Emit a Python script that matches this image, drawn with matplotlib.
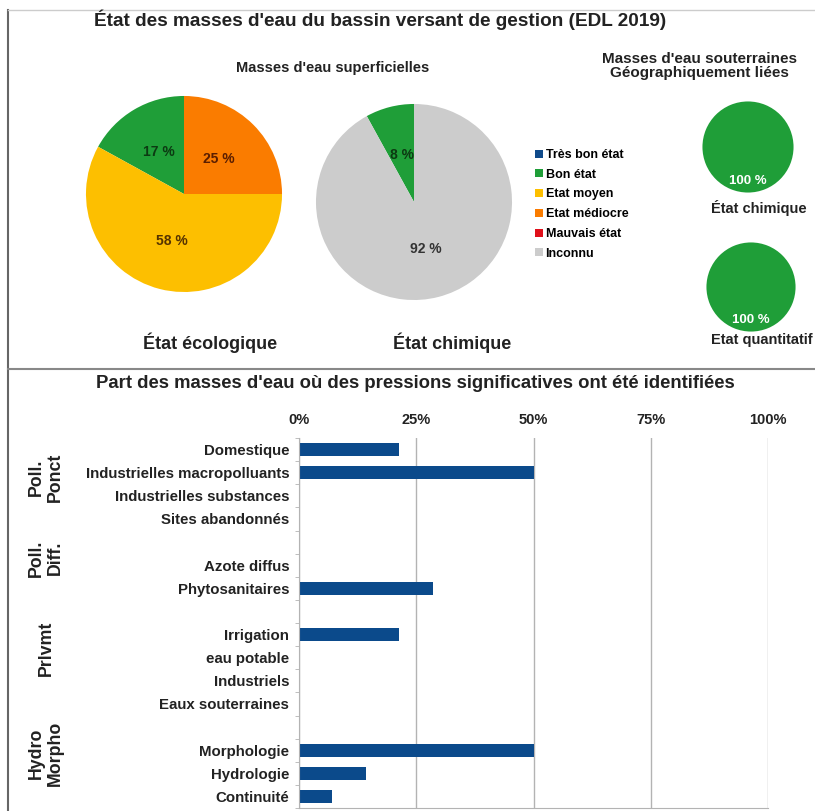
import math
import matplotlib
matplotlib.use("Agg")
import matplotlib.pyplot as plt
from matplotlib.patches import Patch
from matplotlib.lines import Line2D

W, H = 815, 811

# ---------------- data ----------------
etat_categories = ["Très bon état", "Bon état", "Etat moyen", "Etat médiocre", "Mauvais état", "Inconnu"]
etat_colors = ["#0f4a8a", "#1f9e38", "#fdbf00", "#fa7c00", "#e0101a", "#cccccc"]
label_colors = ["#0a2040", "#0c3a12", "#553300", "#5a1e00", "#400000", "#333333"]

ecologique_values = [0, 17, 58, 25, 0, 0]
chimique_values = [0, 8, 0, 0, 0, 92]
sout_chimique_values = [0, 100, 0, 0, 0, 0]
sout_quantitatif_values = [0, 100, 0, 0, 0, 0]

pression_labels = ["Domestique", "Industrielles macropolluants", "Industrielles substances",
                   "Sites abandonnés", "", "Azote diffus", "Phytosanitaires", "",
                   "Irrigation", "eau potable", "Industriels", "Eaux souterraines", "",
                   "Morphologie", "Hydrologie", "Continuité"]
pression_values = [21.4, 50, 0, 0, 0, 0, 28.6, 0, 21.4, 0, 0, 0, 0, 50, 14.3, 7.1]
group_labels = ["Poll.\nPonct", "Poll.\nDiff.", "Prlvmt", "Hydro\nMorpho"]
x_ticks = [0, 25, 50, 75, 100]
x_ticklabels = ["0%", "25%", "50%", "75%", "100%"]

SANS = ["Liberation Sans", "DejaVu Sans"]
plt.rcParams["font.family"] = SANS

fig = plt.figure(figsize=(W / 100, H / 100), dpi=100)
fig.patch.set_facecolor("white")


def fx(x):
    return x / W


def fy(y):
    return 1 - y / H


def pie_axes(cx, cy, r):
    return fig.add_axes([fx(cx - r), fy(cy + r), 2 * r / W, 2 * r / H])


def draw_pie(ax, values, pctdist, txtcolors, fs):
    ax.pie(values, colors=etat_colors, startangle=90, counterclock=True,
           radius=1, wedgeprops=dict(linewidth=0))
    total = sum(values)
    ang = 90.0
    for v, tc in zip(values, txtcolors):
        if v <= 0:
            continue
        span = 360.0 * v / total
        mid = math.radians(ang + span / 2)
        ax.text(pctdist * math.cos(mid), pctdist * math.sin(mid), f"{v} %",
                ha="center", va="center", fontsize=fs, fontweight="bold", color=tc)
        ang += span
    ax.set_xlim(-1.01, 1.01)
    ax.set_ylim(-1.01, 1.01)
    ax.set_aspect("equal")
    ax.axis("off")


# frame lines
fig.add_artist(Line2D([fx(8), fx(8)], [fy(10), fy(811)], color="#666666", lw=1.5))
fig.add_artist(Line2D([fx(8), fx(815)], [fy(10), fy(10)], color="#cccccc", lw=1))
fig.add_artist(Line2D([fx(8), fx(815)], [fy(369), fy(369)], color="#888888", lw=1.5))

# titles
fig.text(fx(380), fy(20), "État des masses d'eau du bassin versant de gestion (EDL 2019)",
         ha="center", va="center", fontsize=13.7, fontweight="bold", color="#222222")
fig.text(fx(333), fy(68), "Masses d'eau superficielles", ha="center", va="center",
         fontsize=10.5, fontweight="bold", color="#222222")
fig.text(fx(699), fy(66), "Masses d'eau souterraines\nGéographiquement liées", ha="center",
         va="center", fontsize=11, fontweight="bold", color="#222222",
         linespacing=1.0)
fig.text(fx(415), fy(383), "Part des masses d'eau où des pressions significatives ont été identifiées",
         ha="center", va="center", fontsize=13.3, fontweight="bold", color="#222222")

# pies
ax1 = pie_axes(184, 194, 99)
draw_pie(ax1, ecologique_values, 0.5, label_colors, 10)
ax2 = pie_axes(414, 202, 99)
draw_pie(ax2, chimique_values, 0.5, label_colors, 10)
ax3 = pie_axes(748, 147, 46)
draw_pie(ax3, sout_chimique_values, 0.75, ["white"] * 6, 9.5)
ax4 = pie_axes(751, 287, 45)
draw_pie(ax4, sout_quantitatif_values, 0.75, ["white"] * 6, 9.5)

fig.text(fx(210), fy(343), "État écologique", ha="center", va="center", fontsize=13,
         fontweight="bold", color="#222222")
fig.text(fx(452), fy(343), "État chimique", ha="center", va="center", fontsize=13,
         fontweight="bold", color="#222222")
fig.text(fx(759), fy(208), "État chimique", ha="center", va="center", fontsize=10.5,
         fontweight="bold", color="#222222")
fig.text(fx(762), fy(340), "Etat quantitatif", ha="center", va="center", fontsize=10.5,
         fontweight="bold", color="#222222")

# legend
handles = [Patch(facecolor=c, edgecolor="none") for c in etat_colors]
fig.legend(handles, etat_categories, loc="upper left", bbox_to_anchor=(fx(535), fy(149)),
           frameon=False, handlelength=0.6, handleheight=0.6,
           handletextpad=0.25, labelspacing=0.62, borderaxespad=0, borderpad=0,
           prop={"family": SANS, "weight": "bold", "size": 9})

# bar chart
axb = fig.add_axes([fx(299), fy(808), (768 - 299) / W, (808 - 438) / H])
ypos = list(range(len(pression_labels)))
axb.barh(ypos, pression_values, height=0.55, color="#0b4a8b")
axb.set_xlim(0, 100)
axb.set_ylim(len(pression_labels) - 0.5, -0.5)
axb.set_xticks(x_ticks)
axb.set_xticklabels(x_ticklabels, fontsize=10.5, fontweight="bold", color="#222222")
axb.xaxis.tick_top()
axb.tick_params(axis="x", length=0, pad=8)
axb.set_yticks(ypos)
axb.set_yticklabels(pression_labels, fontsize=10.8, fontweight="bold", color="#222222")
axb.tick_params(axis="y", which="major", length=0, pad=7)
axb.set_yticks([i - 0.5 for i in range(len(pression_labels) + 1)], minor=True)
axb.tick_params(axis="y", which="minor", length=3, color="#b3b3b3")
axb.grid(axis="x", color="#b3b3b3", lw=1)
axb.set_axisbelow(True)
for s in ["top", "right"]:
    axb.spines[s].set_visible(False)
axb.spines["left"].set_color("#b3b3b3")
axb.spines["bottom"].set_color("#b3b3b3")

group_y = [477, 558, 648, 753]
for lab, gy in zip(group_labels, group_y):
    fig.text(fx(46), fy(gy), lab, rotation=90, ha="center", va="center", fontsize=12.8,
             fontweight="bold", color="#222222", multialignment="center", linespacing=1.15)

fig.savefig("out.png", dpi=100, facecolor="white")
